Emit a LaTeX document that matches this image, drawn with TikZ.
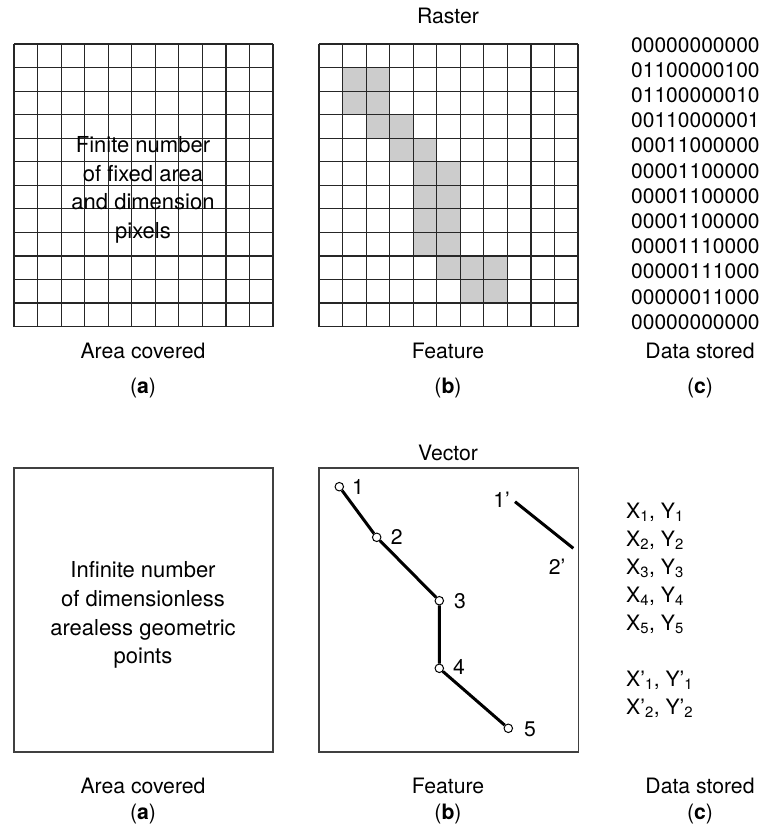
\documentclass[tikz,border=0pt]{standalone}
\usepackage{fontspec}
\setmainfont{TeX Gyre Heros}
\usetikzlibrary{positioning}
\newcommand{\cellsz}{23.55}
\tikzset{
  every picture/.style={line join=miter},
}

\begin{document}
\begin{tikzpicture}[
  x=1pt,y=-1pt,
  every node/.style={font=\fontsize{21.2}{25}\selectfont},
  txt/.style={align=center,font=\fontsize{22}{28.7}\selectfont},
  gridln/.style={draw=black!85,line width=1.2pt},
  pix/.style={fill=black!20},
  frame/.style={draw=black!75,line width=1.2pt},
  vtx/.style={draw,circle,fill=white,minimum size=8.5pt,inner sep=0pt,line width=1pt},
  seg/.style={line width=3pt}
]
\useasboundingbox (0,0) rectangle (761,825);

% raster
\node (rtitle) at (448,16) {Raster};

\begin{scope}[shift={(14,44)},x=\cellsz pt,y=-\cellsz pt]
  \foreach \i in {0,...,11} \draw[gridln] (\i,0) -- (\i,12);
  \foreach \j in {0,...,12} \draw[gridln] (0,\j) -- (11,\j);
\end{scope}
\node[txt] (rtxt) at (143,190) {Finite number\\of fixed area\\and dimension\\pixels};

\begin{scope}[shift={(319,44)},x=\cellsz pt,y=-\cellsz pt]
  \foreach \c/\r in {1/1,2/1,1/2,2/2,2/3,3/3,3/4,4/4,4/5,5/5,4/6,5/6,
                     4/7,5/7,4/8,5/8,5/9,6/9,7/9,6/10,7/10}
    \fill[pix] (\c,\r) rectangle ++(1,1);
  \foreach \i in {0,...,11} \draw[gridln] (\i,0) -- (\i,12);
  \foreach \j in {0,...,12} \draw[gridln] (0,\j) -- (11,\j);
\end{scope}

\node[anchor=west,align=left,inner sep=0pt,font=\fontsize{21}{25.2}\selectfont] (rdata) at (631,183.5)
  {00000000000\\01100000100\\01100000010\\00110000001\\00011000000\\00001100000\\
   00001100000\\00001100000\\00001110000\\00000111000\\00000011000\\00000000000};

\node (rcapa) at (143,351) {Area covered};
\node (rcapb) at (448,351) {Feature};
\node (rcapc) at (700,351) {Data stored};
\node (rla) at (143,388) {(\textbf{a})};
\node (rlb) at (448,388) {(\textbf{b})};
\node (rlc) at (700,388) {(\textbf{c})};

% vector
\node (vtitle) at (448,453) {Vector};

\draw[frame] (14,468) rectangle (273,752);
\node[txt] (vtxt) at (143,615) {Infinite number\\of dimensionless\\arealess geometric\\points};

\draw[frame] (319,468) rectangle (578.3,752);
\node[vtx] (p1) at (339.3,486.7) {};
\node[vtx] (p2) at (376.7,537.3) {};
\node[vtx] (p3) at (439.3,600.7) {};
\node[vtx] (p4) at (439.3,668.3) {};
\node[vtx] (p5) at (508.3,728.3) {};
\draw[seg] (p1) -- (p2) -- (p3) -- (p4) -- (p5);

\node (n1) at (358,487) {1};
\node (n2) at (396.7,537) {2};
\node (n3) at (460,601) {3};
\node (n4) at (459,667) {4};
\node (n5) at (530,729) {5};

\coordinate (q1) at (515,501.7);
\coordinate (q2) at (573.3,548.3);
\draw[seg] (q1) -- (q2);
\node (m1) at (501.5,500) {1’};
\node (m2) at (557,567) {2’};

\node[anchor=west,align=left,inner sep=0pt,font=\fontsize{21.2}{28}\selectfont] (vdata) at (626,610)
  {X\textsubscript{1}, Y\textsubscript{1}\\X\textsubscript{2}, Y\textsubscript{2}\\
   X\textsubscript{3}, Y\textsubscript{3}\\X\textsubscript{4}, Y\textsubscript{4}\\
   X\textsubscript{5}, Y\textsubscript{5}\\[28pt]
   X’\textsubscript{1}, Y’\textsubscript{1}\\X’\textsubscript{2}, Y’\textsubscript{2}};

\node (vcapa) at (143,786) {Area covered};
\node (vcapb) at (448,786) {Feature};
\node (vcapc) at (700,786) {Data stored};
\node (vla) at (143,814) {(\textbf{a})};
\node (vlb) at (448,814) {(\textbf{b})};
\node (vlc) at (700,814) {(\textbf{c})};
\end{tikzpicture}
\end{document}
